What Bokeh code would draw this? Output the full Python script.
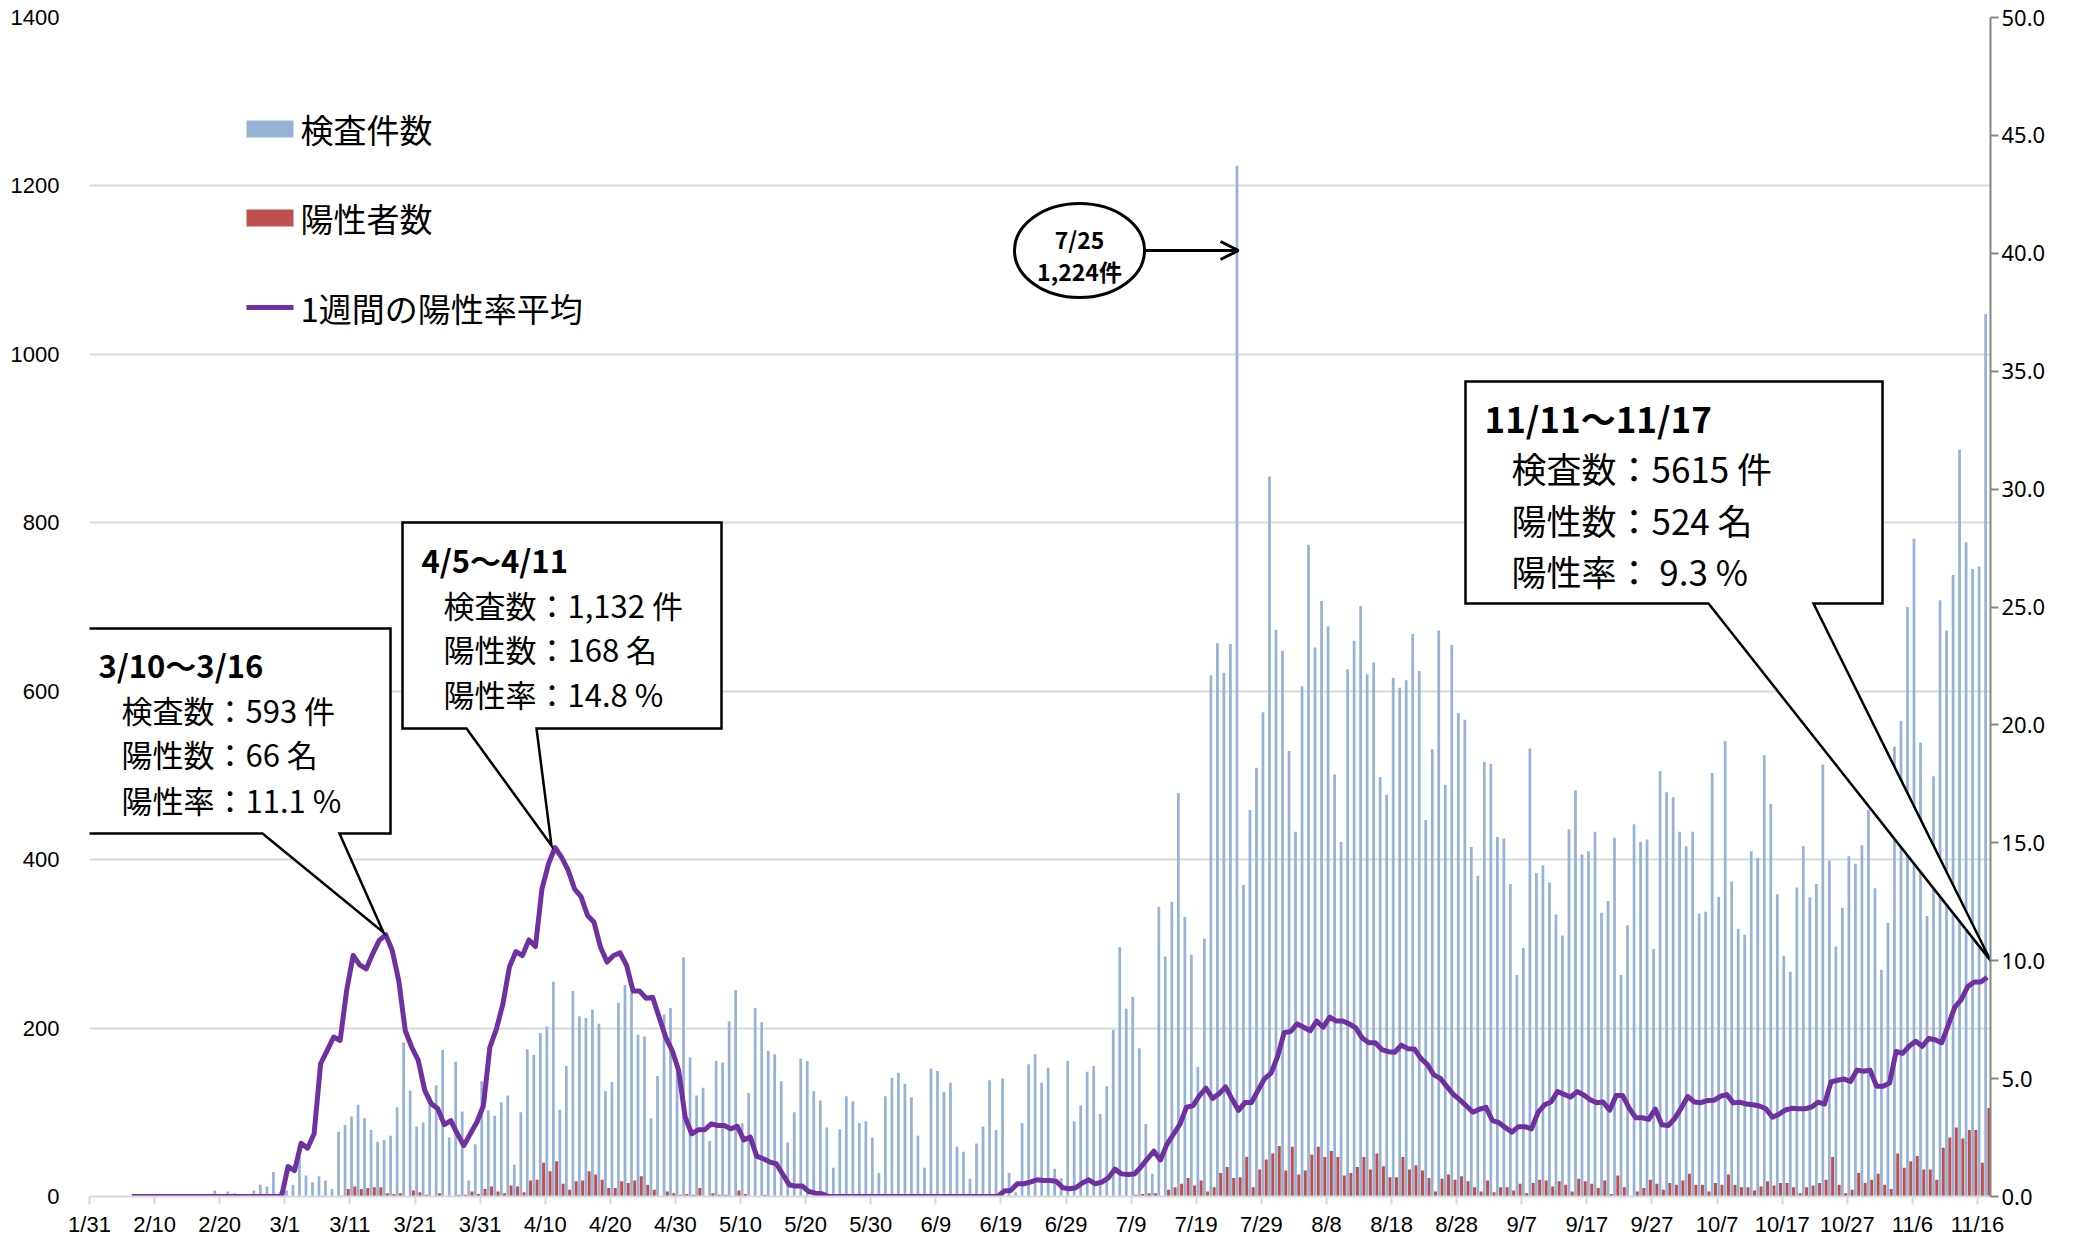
import numpy as np
from bokeh.plotting import figure
from bokeh.models import ColumnDataSource, Range1d, LinearAxis, FixedTicker, PrintfTickFormatter, Arrow, OpenHead
from bokeh.core.properties import value
from bokeh.embed import file_html
from bokeh.resources import INLINE

NaN = float("nan")

# daily number of tests (検査件数), 1/31 .. 11/17
tests = [
    0, 0, 0, 0, 0, 0, 0, 0, 0, 0,
    0, 0, 0, 0, 3, 0, 0, 0, 0, 7,
    0, 6, 4, 0, 0, 7, 14, 12, 29, 5,
    7, 14, 47, 25, 17, 24, 19, 9, 77, 85,
    95, 109, 93, 79, 65, 67, 72, 106, 183, 126,
    83, 88, 109, 132, 174, 70, 160, 101, 19, 62,
    137, 102, 96, 112, 120, 38, 100, 175, 168, 194,
    202, 255, 103, 155, 244, 214, 212, 222, 205, 125,
    136, 230, 251, 242, 192, 190, 93, 143, 216, 224,
    150, 284, 165, 120, 129, 66, 161, 159, 208, 245,
    87, 123, 224, 207, 173, 169, 137, 64, 100, 164,
    161, 125, 114, 82, 34, 80, 119, 113, 87, 89,
    70, 28, 119, 141, 147, 134, 118, 72, 34, 152,
    149, 124, 135, 59, 53, 21, 63, 83, 138, 79,
    140, 28, 5, 87, 157, 169, 135, 153, 33, 22,
    161, 89, 108, 148, 155, 98, 131, 198, 296, 223,
    237, 176, 86, 27, 344, 285, 350, 479, 332, 287,
    154, 306, 619, 657, 622, 656, 1224, 370, 459, 509,
    575, 855, 673, 648, 529, 433, 606, 774, 652, 707,
    677, 501, 421, 626, 660, 701, 620, 634, 498, 477,
    616, 604, 613, 668, 624, 447, 531, 672, 489, 655,
    574, 566, 415, 381, 516, 514, 427, 425, 371, 263,
    295, 532, 384, 393, 373, 335, 310, 436, 482, 406,
    410, 433, 337, 351, 426, 263, 322, 442, 421, 424,
    294, 505, 480, 474, 433, 416, 433, 336, 338, 503,
    356, 541, 374, 318, 311, 410, 402, 524, 466, 359,
    286, 267, 367, 416, 355, 371, 513, 399, 297, 343,
    404, 395, 417, 459, 366, 269, 325, 534, 565, 700,
    781, 539, 333, 499, 708, 672, 738, 887, 777, 745,
    748, 1048,
]

# daily positives (陽性者数)
positives = [
    0, 0, 0, 0, 0, 0, 0, 0, 0, 0,
    0, 0, 0, 0, 0, 0, 0, 0, 0, 0,
    0, 0, 0, 0, 0, 0, 0, 0, 0, 0,
    0, 0, 0, 0, 0, 1, 0, 0, 1, 9,
    12, 9, 10, 11, 11, 4, 3, 4, 0, 7,
    5, 2, 0, 4, 0, 0, 2, 2, 6, 3,
    9, 12, 6, 4, 13, 12, 5, 19, 20, 40,
    30, 42, 15, 8, 18, 19, 30, 26, 20, 10,
    10, 18, 16, 19, 24, 14, 8, 0, 6, 4,
    2, 3, 2, 10, 0, 4, 2, 2, 0, 7,
    3, 0, 0, 2, 0, 0, 0, 0, 0, 0,
    0, 0, 0, 0, 0, 0, 0, 0, 0, 0,
    0, 0, 0, 0, 0, 0, 0, 0, 0, 0,
    0, 0, 0, 0, 0, 0, 0, 0, 0, 0,
    0, 0, 0, 0, 0, 0, 0, 0, 0, 0,
    0, 0, 0, 0, 0, 0, 0, 0, 1, 0,
    2, 3, 4, 4, 0, 8, 11, 15, 22, 13,
    19, 6, 11, 28, 35, 22, 23, 47, 11, 32,
    44, 51, 60, 31, 59, 26, 31, 50, 59, 47,
    54, 47, 25, 28, 35, 47, 32, 51, 36, 23,
    23, 47, 32, 37, 31, 22, 6, 21, 26, 20,
    24, 18, 11, 6, 19, 5, 11, 11, 7, 15,
    4, 16, 20, 19, 12, 18, 14, 6, 21, 18,
    15, 10, 19, 3, 25, 11, 0, 6, 10, 20,
    15, 8, 16, 14, 19, 27, 14, 14, 6, 16,
    14, 26, 14, 11, 11, 7, 12, 18, 13, 16,
    16, 11, 4, 11, 13, 16, 20, 47, 14, 4,
    8, 28, 16, 20, 27, 14, 9, 51, 34, 42,
    48, 32, 32, 20, 58, 70, 82, 69, 79, 79,
    40, 105,
]

# 1-week average positivity rate (%)
rate7 = [
    NaN, NaN, NaN, NaN, NaN, NaN, 0, 0, 0, 0,
    0, 0, 0, 0, 0, 0, 0, 0, 0, 0,
    0, 0, 0, 0, 0, 0, 0, 0, 0, 0,
    1.27, 1.1, 2.26, 2.05, 2.66, 5.63, 6.19, 6.76, 6.62, 8.74,
    10.22, 9.82, 9.65, 10.29, 10.86, 11.1, 10.43, 9.16, 7.04, 6.33,
    5.77, 4.5, 3.93, 3.72, 3.05, 3.22, 2.66, 2.16, 2.66, 3.15,
    3.85, 6.33, 7.1, 8.17, 9.73, 10.39, 10.22, 10.88, 10.6, 13.05,
    14.1, 14.8, 14.39, 13.85, 13.05, 12.72, 11.92, 11.63, 10.57, 9.94,
    10.22, 10.33, 9.8, 8.71, 8.71, 8.41, 8.45, 7.6, 6.76, 6.19,
    5.34, 3.36, 2.66, 2.83, 2.83, 3.08, 3.01, 3.01, 2.87, 2.98,
    2.4, 2.52, 1.7, 1.6, 1.46, 1.39, 0.93, 0.49, 0.44, 0.44,
    0.21, 0.14, 0.12, 0, 0, 0, 0, 0, 0, 0,
    0, 0, 0, 0, 0, 0, 0, 0, 0, 0,
    0, 0, 0, 0, 0, 0, 0, 0, 0, 0,
    0.23, 0.25, 0.54, 0.54, 0.61, 0.71, 0.68, 0.68, 0.65, 0.37,
    0.33, 0.37, 0.57, 0.71, 0.54, 0.61, 0.79, 1.16, 0.96, 0.93,
    0.95, 1.25, 1.6, 1.92, 1.55, 2.21, 2.64, 3.07, 3.79, 3.85,
    4.28, 4.59, 4.16, 4.36, 4.65, 4.13, 3.65, 3.99, 3.99, 4.51,
    5.0, 5.23, 5.94, 6.95, 7.0, 7.32, 7.18, 7.03, 7.44, 7.18,
    7.61, 7.44, 7.44, 7.32, 7.15, 6.72, 6.52, 6.52, 6.23, 6.14,
    6.12, 6.42, 6.27, 6.26, 5.86, 5.6, 5.16, 5.01, 4.66, 4.33,
    4.1, 3.84, 3.57, 3.7, 3.78, 3.22, 3.13, 2.92, 2.73, 2.96,
    2.96, 2.87, 3.57, 3.89, 4.01, 4.45, 4.33, 4.22, 4.45, 4.31,
    4.1, 3.98, 4.01, 3.66, 4.28, 4.28, 3.75, 3.34, 3.34, 3.27,
    3.71, 3.04, 3.01, 3.31, 3.75, 4.24, 4.01, 3.98, 4.07, 4.08,
    4.25, 4.32, 3.97, 4.0, 3.92, 3.89, 3.84, 3.72, 3.36, 3.49,
    3.67, 3.74, 3.72, 3.72, 3.79, 4.0, 3.92, 4.86, 4.93, 4.98,
    4.88, 5.36, 5.31, 5.36, 4.68, 4.68, 4.81, 6.15, 6.07, 6.37,
    6.58, 6.37, 6.7, 6.65, 6.52, 7.26, 8.02, 8.35, 8.9, 9.1,
    9.1, 9.3,
]

tick_labels = ["1/31", "2/10", "2/20", "3/1", "3/11", "3/21", "3/31", "4/10", "4/20", "4/30",
               "5/10", "5/20", "5/30", "6/9", "6/19", "6/29", "7/9", "7/19", "7/29", "8/8",
               "8/18", "8/28", "9/7", "9/17", "9/27", "10/7", "10/17", "10/27", "11/6", "11/16"]
tick_days = [10 * i for i in range(len(tick_labels))]

legend_labels = ["検査件数", "陽性者数", "1週間の陽性率平均"]

callouts = [
    ["3/10〜3/16", "検査数：593 件", "陽性数：66 名", "陽性率：11.1 %"],
    ["4/5〜4/11", "検査数：1,132 件", "陽性数：168 名", "陽性率：14.8 %"],
    ["11/11〜11/17", "検査数：5615 件", "陽性数：524 名", "陽性率： 9.3 %"],
]
peak_label = ["7/25", "1,224件"]

BLUE = "#95b3d7"
RED = "#c0504d"
PURPLE = "#7030a0"
GRID = "#d9d9d9"
JP = "Noto Sans CJK JP"
AXF = "Liberation Sans"

n = len(tests)
day = np.arange(n)

W, H = 2079, 1240
BL, BT = 89, 17
FW, FH = 1901, 1179
BR = W - BL - FW
BB = H - BT - FH
YMAX = 1400

p = figure(width=W, height=H, x_range=Range1d(0, n), y_range=Range1d(0, YMAX),
           output_backend="svg", toolbar_location=None,
           min_border_left=BL, min_border_right=BR, min_border_top=BT, min_border_bottom=BB)
p.outline_line_color = None
p.extra_y_ranges = {"rate": Range1d(0, 50)}


# page-pixel -> data helpers (for annotation placement only)
def dx(px):
    return (px - BL) * n / FW


def dy(py):
    return (BT + FH - py) * YMAX / FH


src = ColumnDataSource(dict(xb=day + 0.25, xr=day + 0.75, xl=day + 0.5,
                            tests=tests, pos=positives, rate=rate7))

p.vbar(x="xb", top="tests", width=0.42, source=src, fill_color=BLUE, line_color=None)
p.vbar(x="xr", top="pos", width=0.46, source=src, fill_color=RED, line_color=None)
p.line(x="xl", y="rate", source=src, line_color=PURPLE, line_width=5, y_range_name="rate",
       line_join="round")

# axes
p.xaxis.ticker = FixedTicker(ticks=tick_days)
p.xaxis.major_label_overrides = {d: lab for d, lab in zip(tick_days, tick_labels)}
p.xaxis.axis_line_color = GRID
p.xaxis.axis_line_width = 2
p.xaxis.major_tick_line_color = GRID
p.xaxis.major_tick_line_width = 2
p.xaxis.major_tick_out = 8
p.xaxis.major_tick_in = 0
p.xaxis.minor_tick_line_color = None
p.xaxis.major_label_standoff = 7
p.xaxis.major_label_text_font = AXF
p.xaxis.major_label_text_font_size = "22px"
p.xaxis.major_label_text_color = "black"

p.yaxis.ticker = FixedTicker(ticks=list(range(0, 1401, 200)))
p.yaxis.axis_line_color = None
p.yaxis.major_tick_line_color = None
p.yaxis.minor_tick_line_color = None
p.yaxis.major_label_standoff = 24
p.yaxis.major_label_text_font = AXF
p.yaxis.major_label_text_font_size = "22px"
p.yaxis.major_label_text_color = "black"

p.xgrid.visible = False
p.ygrid.grid_line_color = GRID
p.ygrid.grid_line_width = 2

rax = LinearAxis(y_range_name="rate", ticker=FixedTicker(ticks=list(range(0, 51, 5))),
                 formatter=PrintfTickFormatter(format="%.1f"))
rax.axis_line_color = "#868686"
rax.axis_line_width = 2
rax.major_tick_line_color = "#868686"
rax.major_tick_line_width = 2
rax.major_tick_out = 8
rax.major_tick_in = 0
rax.minor_tick_line_color = None
rax.major_label_standoff = 3
rax.major_label_text_font = "Noto Sans"
rax.major_label_text_font_size = "22px"
rax.major_label_text_color = "black"
p.add_layout(rax, "right")

# legend (manual)
p.rect(x=[dx(269.5)], y=[dy(128.5)], width=47, height=17, width_units="screen", height_units="screen",
       fill_color=BLUE, line_color=None)
p.rect(x=[dx(269.5)], y=[dy(217.5)], width=47, height=17, width_units="screen", height_units="screen",
       fill_color=RED, line_color=None)
p.line(x=[dx(246), dx(293)], y=[dy(307), dy(307)], line_color=PURPLE, line_width=5)
p.text(x=[dx(300)] * 3, y=[dy(128), dy(217), dy(307)], text=legend_labels,
       text_font=value(JP), text_font_size="33px", text_baseline="middle", text_align="left",
       text_color="black")

# callouts: box (L, T, R, B), pointer base (bl, br), tip, text origin, line ys, font size
callout_geo = [
    dict(box=(80, 628, 390, 833), base=(262, 339), tip=(383, 932), tx=(98, 121),
         ys=(664, 709, 753, 799), fs=31),
    dict(box=(402, 522, 721, 728), base=(466, 536), tip=(551, 845), tx=(421, 443),
         ys=(559, 604, 648, 693), fs=31),
    dict(box=(1465, 381, 1882, 603), base=(1708, 1813), tip=(1990, 960), tx=(1484, 1511),
         ys=(417, 467, 519, 570), fs=35),
]
for lines, g in zip(callouts, callout_geo):
    L, T, R, B = g["box"]
    bl, br = g["base"]
    tx, ty = g["tip"]
    pts = [(L, T), (R, T), (R, B), (br, B), (tx, ty), (bl, B), (L, B)]
    p.patch(x=[dx(a) for a, _ in pts], y=[dy(b) for _, b in pts], fill_color="white",
            line_color="black", line_width=2.5, line_join="miter")
    p.text(x=[dx(g["tx"][0])], y=[dy(g["ys"][0])], text=[lines[0]], text_font=value(JP),
           text_font_style="bold", text_font_size=f"{g['fs']}px", text_baseline="middle",
           text_align="left", text_color="black")
    p.text(x=[dx(g["tx"][1])] * 3, y=[dy(v) for v in g["ys"][1:]], text=lines[1:],
           text_font=value(JP), text_font_size=f"{g['fs']}px", text_baseline="middle",
           text_align="left", text_color="black")

# peak ellipse + arrow
p.ellipse(x=[dx(1079)], y=[dy(250)], width=130, height=94, width_units="screen",
          height_units="screen", fill_color="white", line_color="black", line_width=3)
p.text(x=[dx(1079)] * 2, y=[dy(238), dy(270)], text=peak_label, text_font=value(JP),
       text_font_style="bold", text_font_size="23px", text_baseline="middle", text_align="center",
       text_color="black")
p.add_layout(Arrow(x_start=dx(1145), y_start=dy(250), x_end=dx(1238), y_end=dy(250),
                   line_color="black", line_width=3,
                   end=OpenHead(size=18, line_color="black", line_width=3)))

open("out.html", "w").write(file_html(p, INLINE))
